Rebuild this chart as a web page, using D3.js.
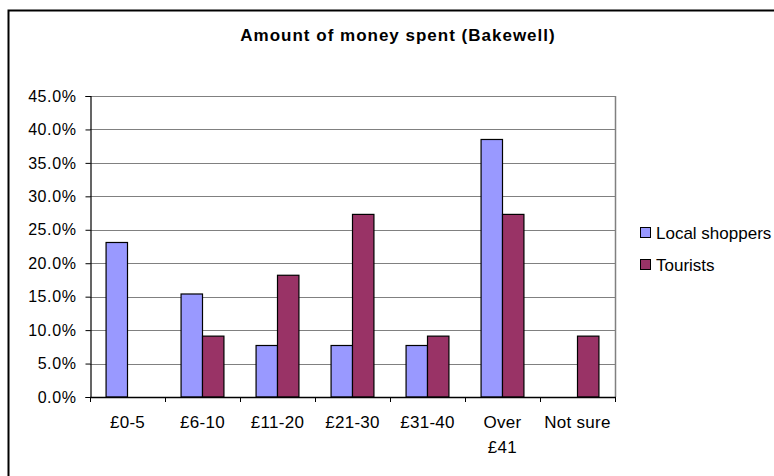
<!DOCTYPE html>
<html>
<head>
<meta charset="utf-8">
<script src="https://cdn.jsdelivr.net/npm/d3@7"></script>
<style>
  html, body { margin: 0; padding: 0; background: #fff; }
  svg { display: block; font-family: Arial, "Liberation Sans", sans-serif; }
</style>
</head>
<body>
<svg id="chart" width="774" height="476"></svg>
<script>
// Spending bands and share of respondents in each band
const categories = ["£0-5", "£6-10", "£11-20", "£21-30", "£31-40", "Over £41", "Not sure"];
const seriesNames = ["Local shoppers", "Tourists"];
const localShoppers = [0.231, 0.154, 0.077, 0.077, 0.077, 0.385, 0];
const tourists = [0, 0.091, 0.182, 0.273, 0.091, 0.273, 0.091];
const seriesColors = ["#9999FF", "#993366"];
const yTicks = [0, 0.05, 0.10, 0.15, 0.20, 0.25, 0.30, 0.35, 0.40, 0.45];
const chartTitle = "Amount of money spent (Bakewell)";

const seriesValues = [localShoppers, tourists];
const svg = d3.select("#chart");

// Chart frame
svg.append("rect")
  .attr("x", 8.5).attr("y", 10.5)
  .attr("width", 800).attr("height", 500)
  .attr("fill", "#fff").attr("stroke", "#000").attr("stroke-width", 2);

const plot = { left: 90, right: 615, top: 96, bottom: 397 };

const x0 = d3.scaleBand().domain(categories).range([plot.left, plot.right]).padding(0);
const x1 = d3.scaleBand().domain(seriesNames).range([0, x0.bandwidth()])
  .paddingInner(0).paddingOuter(0.75);
const y = d3.scaleLinear().domain([0, 0.45]).range([plot.bottom, plot.top]);

// Horizontal gridlines
svg.append("g").selectAll("line").data(yTicks.slice(1)).join("line")
  .attr("x1", plot.left).attr("x2", plot.right)
  .attr("y1", d => Math.round(y(d)) + 0.5).attr("y2", d => Math.round(y(d)) + 0.5)
  .attr("stroke", "#808080").attr("stroke-width", 1);

// Right edge of the plot area
svg.append("line")
  .attr("x1", plot.right + 0.5).attr("x2", plot.right + 0.5)
  .attr("y1", plot.top).attr("y2", plot.bottom)
  .attr("stroke", "#808080").attr("stroke-width", 1.5);

// Bars
const groups = svg.append("g").selectAll("g").data(categories).join("g")
  .attr("transform", d => `translate(${x0(d)},0)`);
groups.selectAll("rect")
  .data((c, i) => seriesNames.map((s, j) => ({ s, j, v: seriesValues[j][i] })).filter(d => d.v > 0))
  .join("rect")
  .attr("x", d => x1(d.s))
  .attr("y", d => y(d.v))
  .attr("width", x1.bandwidth())
  .attr("height", d => y(0) - y(d.v))
  .attr("fill", d => seriesColors[d.j])
  .attr("stroke", "#000").attr("stroke-width", 1.2);

// Y axis
const yAxis = d3.axisLeft(y).tickValues(yTicks).tickFormat(d3.format(".1%"))
  .tickSize(5).tickPadding(9);
const yg = svg.append("g").attr("transform", `translate(${plot.left + 0.5},0)`).call(yAxis);
yg.select(".domain").attr("stroke", "#000").attr("stroke-width", 1.2);
yg.selectAll(".tick line").attr("stroke", "#000");
yg.selectAll(".tick text")
  .attr("font-size", 16).attr("fill", "#000")
  .attr("font-family", "Arial, 'Liberation Sans', sans-serif")
  .attr("letter-spacing", 0.6);

// X axis: ticks at category boundaries, labels centred under each group
const boundaries = categories.map(c => x0(c)).concat([plot.right]);
const xg = svg.append("g");
xg.append("line")
  .attr("x1", plot.left).attr("x2", plot.right + 1)
  .attr("y1", plot.bottom + 0.5).attr("y2", plot.bottom + 0.5)
  .attr("stroke", "#000").attr("stroke-width", 1.5);
xg.selectAll("line.tk").data(boundaries).join("line").attr("class", "tk")
  .attr("x1", d => d + 0.5).attr("x2", d => d + 0.5)
  .attr("y1", plot.bottom).attr("y2", plot.bottom + 5)
  .attr("stroke", "#000");

const xLabels = xg.selectAll("text").data(categories).join("text")
  .attr("x", d => x0(d) + x0.bandwidth() / 2)
  .attr("y", 428)
  .attr("text-anchor", "middle")
  .attr("font-size", 17)
  .attr("letter-spacing", 0.3)
  .attr("fill", "#000");
xLabels.each(function (d) {
  const words = d === "Over £41" ? ["Over", "£41"] : [d];
  const t = d3.select(this);
  words.forEach((w, i) => {
    t.append("tspan")
      .attr("x", x0(d) + x0.bandwidth() / 2)
      .attr("dy", i === 0 ? 0 : 25)
      .text(w);
  });
});

// Title
svg.append("text")
  .attr("x", 398).attr("y", 41)
  .attr("text-anchor", "middle")
  .attr("font-size", 17).attr("font-weight", "bold")
  .attr("letter-spacing", 1)
  .text(chartTitle);

// Legend
const legend = svg.append("g").selectAll("g").data(seriesNames).join("g")
  .attr("transform", (d, i) => `translate(640,${227 + i * 32})`);
legend.append("rect")
  .attr("x", 0.5).attr("y", 0.5).attr("width", 10).attr("height", 10)
  .attr("fill", (d, i) => seriesColors[i])
  .attr("stroke", "#000").attr("stroke-width", 1);
legend.append("text")
  .attr("x", 16).attr("y", 11.5)
  .attr("font-size", 17)
  .attr("fill", "#000")
  .text(d => d);
</script>
</body>
</html>
